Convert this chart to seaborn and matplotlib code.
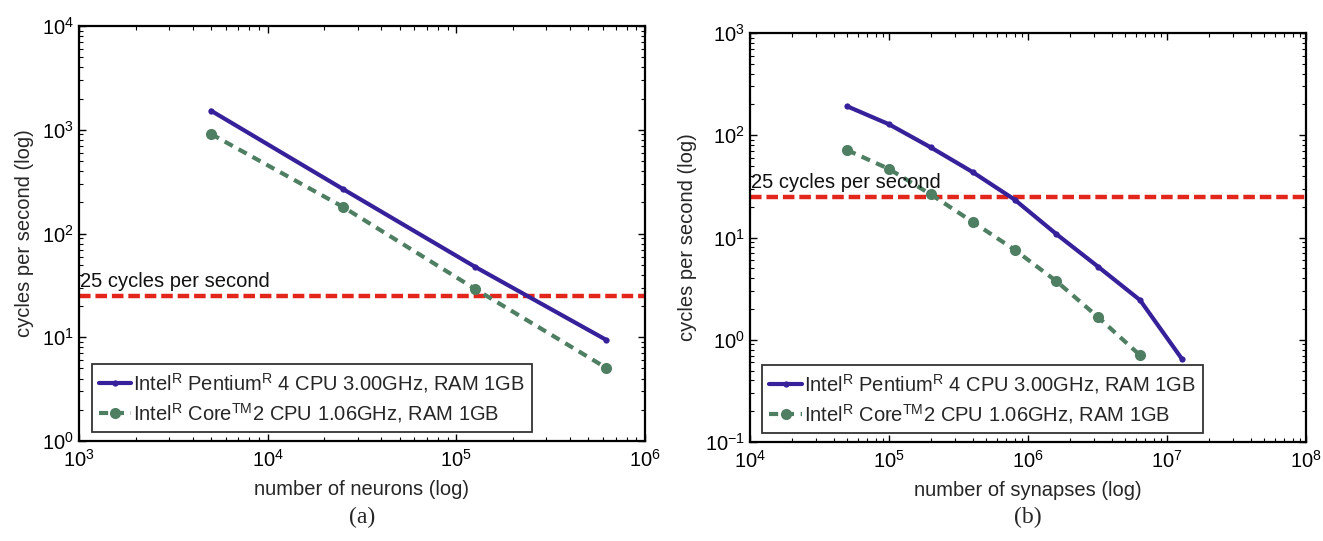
import numpy as np
import pandas as pd
import matplotlib
matplotlib.use("Agg")
import matplotlib.pyplot as plt
import seaborn as sns
from matplotlib.ticker import LogLocator, NullFormatter

# Panel (a): simulation speed against network size in neurons
neurons = [5000, 25000, 125000, 625000]
pentium_neurons_cps = [1530, 269, 48, 9.4]
core_neurons_cps = [912, 181, 29.4, 5.05]

# Panel (b): simulation speed against network size in synapses
synapses_pentium = [5e4, 1e5, 2e5, 4e5, 8e5, 1.6e6, 3.2e6, 6.4e6, 1.28e7]
pentium_synapses_cps = [192, 128, 76, 43.6, 23.5, 10.8, 5.17, 2.44, 0.65]
synapses_core = [5e4, 1e5, 2e5, 4e5, 8e5, 1.6e6, 3.2e6, 6.4e6]
core_synapses_cps = [71.6, 46.8, 26.4, 14.2, 7.6, 3.74, 1.66, 0.705]

realtime_threshold = 25
threshold_label = "25 cycles per second"

pentium_label = r"Intel$^{\mathrm{R}}$ Pentium$^{\mathrm{R}}$ 4 CPU 3.00GHz, RAM 1GB"
core_label = r"Intel$^{\mathrm{R}}$ Core$^{\mathrm{TM}}$2 CPU 1.06GHz, RAM 1GB"

sns.set_theme(style="white")
plt.rcParams["font.family"] = ["Liberation Sans", "DejaVu Sans"]
plt.rcParams["mathtext.fontset"] = "custom"
plt.rcParams["mathtext.rm"] = "Liberation Sans"
plt.rcParams["mathtext.it"] = "Liberation Sans:italic"
plt.rcParams["mathtext.bf"] = "Liberation Sans:bold"

BLUE = "#37219b"
GREEN = "#4f7f62"
RED = "#e2261c"
FS = 14.5

fig = plt.figure(figsize=(13.23, 5.41), dpi=100)
ax_a = fig.add_axes([79 / 1323, 100 / 541, 566 / 1323, 415 / 541])
ax_b = fig.add_axes([750 / 1323, 99 / 541, 556 / 1323, 409 / 541])


def draw_panel(ax, x_p, y_p, x_c, y_c, xlim, ylim, xlabel, tag):
    df_p = pd.DataFrame({"x": x_p, "y": y_p})
    df_c = pd.DataFrame({"x": x_c, "y": y_c})
    sns.lineplot(data=df_p, x="x", y="y", ax=ax, color=BLUE, linewidth=3,
                 marker="o", markersize=4.5, markeredgewidth=0,
                 label=pentium_label, sort=False)
    sns.lineplot(data=df_c, x="x", y="y", ax=ax, color=GREEN, linewidth=3,
                 linestyle=(0, (2.2, 1.6)), marker="o", markersize=8,
                 markeredgewidth=0, label=core_label, sort=False)
    ax.axhline(realtime_threshold, color=RED, linewidth=3.2,
               linestyle=(0, (2.6, 1.1)), zorder=1)
    ax.set_xscale("log")
    ax.set_yscale("log")
    ax.set_xlim(*xlim)
    ax.set_ylim(*ylim)
    ax.text(xlim[0] * 1.01, realtime_threshold * 1.12, threshold_label,
            fontsize=FS, color="#111111", va="bottom", ha="left")

    for axis in (ax.xaxis, ax.yaxis):
        axis.set_major_locator(LogLocator(base=10, numticks=100))
        axis.set_minor_locator(LogLocator(base=10, subs=np.arange(2, 10),
                                          numticks=100))
        axis.set_minor_formatter(NullFormatter())
    ax.tick_params(which="both", direction="in", top=True, right=True,
                   bottom=True, left=True, colors="black", labelsize=FS)
    ax.tick_params(which="major", length=5, width=1)
    ax.tick_params(which="minor", length=3, width=0.8)
    ax.tick_params(axis="x", pad=6)
    for sp in ax.spines.values():
        sp.set_color("black")
        sp.set_linewidth(1.6)

    ax.set_xlabel(xlabel, fontsize=FS, labelpad=6)
    ax.set_ylabel("cycles per second (log)", fontsize=FS, labelpad=6)

    leg = ax.legend(loc="lower left", bbox_to_anchor=(0.015, 0.012),
                    fontsize=FS, frameon=True, fancybox=False,
                    handlelength=1.6, handletextpad=0.1, labelspacing=0.3,
                    borderpad=0.35, borderaxespad=0.2)
    leg.get_frame().set_edgecolor("black")
    leg.get_frame().set_linewidth(1.3)

    pos = ax.get_position()
    fig.text(pos.x0 + pos.width / 2, 24 / 541, tag, ha="center", va="center",
             fontsize=17, family=["Liberation Serif", "DejaVu Serif"])


draw_panel(ax_a, neurons, pentium_neurons_cps, neurons, core_neurons_cps,
           (1e3, 1e6), (1e0, 1e4), "number of neurons (log)", "(a)")
draw_panel(ax_b, synapses_pentium, pentium_synapses_cps, synapses_core,
           core_synapses_cps, (1e4, 1e8), (1e-1, 1e3),
           "number of synapses (log)", "(b)")

fig.savefig("out.png", dpi=100, facecolor="white")
